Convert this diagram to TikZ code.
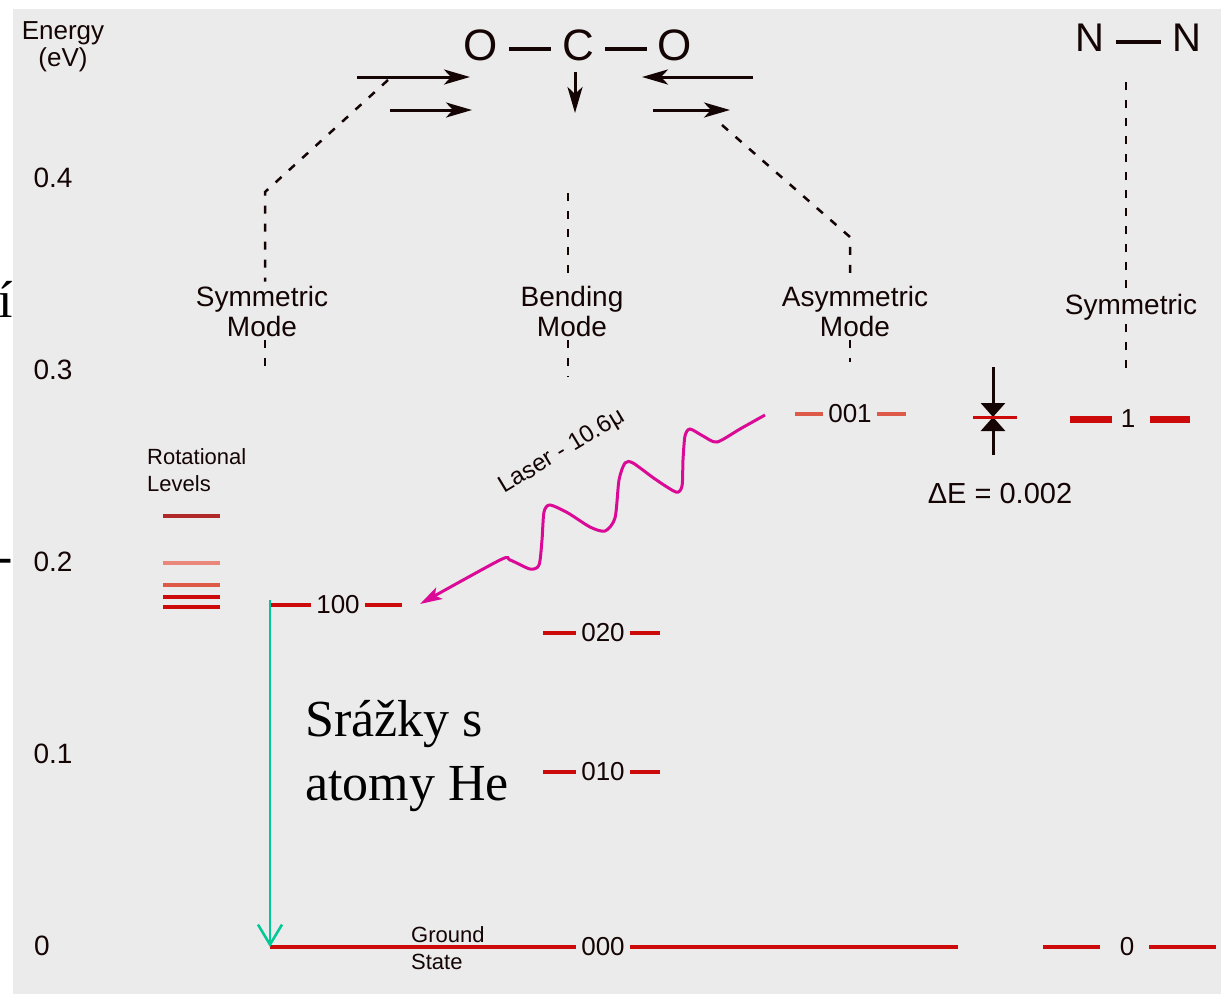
\documentclass[tikz,border=0pt]{standalone}
\usepackage{fontspec}
\setmainfont{Liberation Serif}
\setsansfont{Liberation Sans}
\usepackage{tikz}
\usetikzlibrary{arrows.meta,positioning,calc}
\definecolor{PanelGray}{HTML}{EBEBEB}
\definecolor{InkBlack}{HTML}{140404}
\definecolor{LevelRed}{HTML}{CC0A0A}
\definecolor{PaleRed}{HTML}{DD5A48}
\definecolor{SoftRed}{HTML}{E8877A}
\definecolor{DarkRed}{HTML}{B02828}
\definecolor{LaserPink}{HTML}{DA0A96}
\definecolor{DecayGreen}{HTML}{00C896}
\tikzset{
  lbl/.style={font=\sffamily\fontsize{28}{30}\selectfont,align=center,inner sep=4pt,text=InkBlack},
  smalllbl/.style={font=\sffamily\fontsize{22}{27}\selectfont,align=left,inner sep=0pt,text=InkBlack},
  atom/.style={font=\sffamily\fontsize{44}{44}\selectfont,inner xsep=11pt,inner ysep=0pt,text=InkBlack},
  bond/.style={draw=InkBlack,line width=3.5pt},
  motion/.style={-{Stealth[length=26pt,width=15pt,inset=7pt]},draw=InkBlack,line width=3pt},
  modeline/.style={draw=InkBlack,line width=2.5pt,dash pattern=on 8pt off 10pt},
  level/.style={draw=LevelRed,line width=4.5pt},
  levellbl/.style={font=\sffamily\fontsize{26}{26}\selectfont,inner sep=5pt,text=InkBlack},
  laser/.style={draw=LaserPink,line width=3pt,-{Stealth[length=22pt,width=13pt,inset=5pt]}},
  decay/.style={draw=DecayGreen,line width=2.5pt,-{Straight Barb[length=20pt,width=24pt]}},
  gap/.style={-{Triangle[length=14pt,width=24pt]},draw=InkBlack,line width=3pt},
  czech/.style={font=\fontsize{52}{64}\selectfont,inner sep=0pt}
}

\begin{document}
\begin{tikzpicture}[x=1pt,y=-1pt]
  \useasboundingbox (0,0) rectangle (1221,994);
  \node[czech,anchor=base east] (cutacute) at (13,317) {í};
  \node[czech,anchor=base east] (cutdash) at (13,573) {-};
  \fill[PanelGray] (13,9) rectangle (1221,994);

  \node[lbl,font=\sffamily\fontsize{26}{27}\selectfont] (energy) at (63,47) {Energy\\(eV)};
  \foreach \v/\y in {0.4/178,0.3/370,0.2/562,0.1/754}
    \node[lbl] (tick\y) at (53,\y) {\v};
  \node[lbl] (tick946) at (42,946) {0};

  \node[atom] (oleft) at (481,45) {O};
  \node[atom] (carbon) at (578,45) {C};
  \node[atom] (oright) at (675,45) {O};
  \draw[bond] ([yshift=-4pt]oleft.east) -- ([yshift=-4pt]carbon.west);
  \draw[bond] ([yshift=-4pt]carbon.east) -- ([yshift=-4pt]oright.west);
  \node[atom,font=\sffamily\fontsize{40}{40}\selectfont] (nleft) at (1090,38) {N};
  \node[atom,font=\sffamily\fontsize{40}{40}\selectfont] (nright) at (1187,38) {N};
  \draw[bond] ([yshift=-4pt]nleft.east) -- ([yshift=-4pt]nright.west);

  \coordinate (pushA) at (357,77);  \coordinate (pushAend) at (470,77);
  \coordinate (pushB) at (390,110); \coordinate (pushBend) at (472,110);
  \coordinate (pushC) at (753,77);  \coordinate (pushCend) at (642,77);
  \coordinate (pushD) at (653,110); \coordinate (pushDend) at (730,110);
  \coordinate (bendstart) at (575,72); \coordinate (bendend) at (575,113);
  \draw[motion] (pushA) -- (pushAend);
  \draw[motion] (pushB) -- (pushBend);
  \draw[motion] (pushC) -- (pushCend);
  \draw[motion] (pushD) -- (pushDend);
  \draw[motion] (bendstart) -- (bendend);

  \node[lbl] (symmode) at (262,311) {Symmetric\\Mode};
  \node[lbl] (bendmode) at (572,311) {Bending\\Mode};
  \node[lbl] (asymmode) at (855,311) {Asymmetric\\Mode};
  \node[lbl] (nsym) at (1131,307) {Symmetric};
  \coordinate (symtip) at (388,80);   \coordinate (symknee) at (265,192); \coordinate (symfoot) at (265,372);
  \coordinate (bendtop) at (568,193); \coordinate (bendfoot) at (568,377);
  \coordinate (asymtip) at (722,125); \coordinate (asymknee) at (850,237); \coordinate (asymfoot) at (850,362);
  \coordinate (nsymtop) at (1126,82); \coordinate (nsymfoot) at (1126,370);
  \draw[modeline] (symtip) -- (symknee) -- (symknee |- symmode.north);
  \draw[modeline] (symknee |- symmode.south) -- (symfoot);
  \draw[modeline] (bendtop) -- (bendtop |- bendmode.north);
  \draw[modeline] (bendtop |- bendmode.south) -- (bendfoot);
  \draw[modeline] (asymtip) -- (asymknee) -- (asymknee |- asymmode.north);
  \draw[modeline] (asymknee |- asymmode.south) -- (asymfoot);
  \draw[modeline] (nsymtop) -- (nsymtop |- nsym.north);
  \draw[modeline] (nsymtop |- nsym.south) -- (nsymfoot);

  \foreach \lab/\cx/\cy/\xl/\xr/\col in {100/338/605/270/402/LevelRed,020/603/633/543/660/LevelRed,
      010/603/772/543/660/LevelRed,001/850/414/795/906/PaleRed,000/603/947/270/958/LevelRed}{
    \node[levellbl] (v\lab) at (\cx,\cy) {\lab};
    \coordinate (v\lab w) at (\xl,\cy);
    \coordinate (v\lab e) at (\xr,\cy);
    \draw[level,draw=\col] (v\lab w) -- (v\lab);
    \draw[level,draw=\col] (v\lab) -- (v\lab e);
  }
  \node[smalllbl,anchor=west] (groundtxt) at (411,948) {Ground\\State};

  \node[levellbl] (none) at (1128,419) {1};
  \coordinate (noneA) at (1070,419); \coordinate (noneB) at (1112,419);
  \coordinate (noneC) at (1150,419); \coordinate (noneD) at (1190,419);
  \draw[level,line width=7pt] (noneA) -- (noneB);
  \draw[level,line width=7pt] (noneC) -- (noneD);
  \node[levellbl] (nzero) at (1127,947) {0};
  \coordinate (nzeroA) at (1043,947); \coordinate (nzeroB) at (1100,947);
  \coordinate (nzeroC) at (1149,947); \coordinate (nzeroD) at (1216,947);
  \draw[level] (nzeroA) -- (nzeroB);
  \draw[level] (nzeroC) -- (nzeroD);

  \coordinate (gapl) at (973,417); \coordinate (gapr) at (1017,417);
  \coordinate (gaptop) at (993,367); \coordinate (gapbot) at (993,455);
  \draw[gap] (gaptop) -- (gaptop |- gapl);
  \draw[gap] (gapbot) -- (gapbot |- gapl);
  \draw[level,line width=3pt] (gapl) -- (gapr);
  \node[lbl,font=\sffamily\fontsize{29}{29}\selectfont] (gaplbl) at (1000,494) {ΔE = 0.002};

  \node[smalllbl,anchor=west] (rotlbl) at (147,470) {Rotational\\Levels};
  \foreach \y/\col in {516/DarkRed,563/SoftRed,585/PaleRed,597/LevelRed,607/LevelRed}{
    \coordinate (rot\y w) at (163,\y);
    \coordinate (rot\y e) at (220,\y);
    \draw[level,line width=3.5pt,draw=\col] (rot\y w) -- (rot\y e);
  }

  \draw[decay] ([yshift=5pt]v100w) -- (v000w);

  \coordinate (laserfrom) at (765,415);
  \coordinate (laserto) at (420,604);
  \draw[laser] plot[smooth,tension=0.45] coordinates {(laserfrom) (740,429) (717,442) (703,436)
    (690,429) (685,436) (683,460) (682,486) (676,492) (655,479) (633,463) (625,463) (619,480)
    (615,518) (605,531) (590,527) (568,513) (550,505) (544,512) (542,540) (539,565) (530,569)
    (510,560) (500,560) (laserto)};
  \node[lbl,font=\sffamily\fontsize{24}{24}\selectfont,rotate=31] (laserlbl) at (562,452) {Laser - 10.6μ};

  \node[czech,align=left,anchor=north west] (collide) at (305,700) {Srážky s\\atomy He};
\end{tikzpicture}
\end{document}
